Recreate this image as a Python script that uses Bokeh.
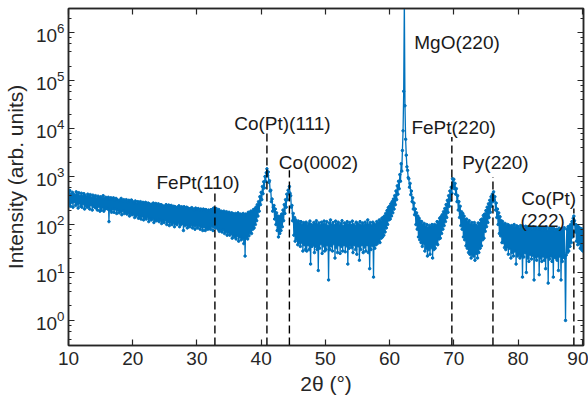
import numpy as np
from bokeh.plotting import figure
from bokeh.models import (Range1d, LinearAxis, LogAxis, FixedTicker, LogTicker,
                          ColumnDataSource, CustomJSTickFormatter)
from bokeh.core.properties import value
from bokeh.embed import file_html
from bokeh.resources import INLINE

# ---------------- data ----------------
scan_start = 10.0   # degrees 2theta
scan_step = 0.1     # degrees

intensity_10_20 = [
    450, 270, 510, 240, 420, 290, 470, 230, 430, 300,
    400, 250, 480, 270, 420, 220, 460, 280, 390, 240,
    450, 230, 390, 270, 440, 210, 400, 250, 370, 230,
    430, 240, 380, 210, 420, 260, 360, 200, 410, 240,
    370, 230, 400, 220, 350, 200, 390, 240, 360, 190,
    380, 200, 350, 230, 400, 190, 340, 210, 370, 220,
    340, 210, 370, 115, 330, 200, 360, 180, 340, 210,
    360, 180, 320, 210, 350, 170, 330, 200, 310, 175,
    320, 190, 350, 160, 310, 195, 330, 170, 300, 185,
    330, 165, 295, 175, 320, 150, 300, 170, 325, 160]

intensity_20_30 = [
    300, 165, 280, 140, 310, 150, 275, 160, 300, 135,
    285, 145, 300, 130, 275, 150, 290, 125, 270, 140,
    290, 130, 260, 145, 280, 115, 270, 135, 255, 125,
    265, 135, 280, 110, 255, 125, 275, 120, 250, 130,
    270, 115, 245, 125, 260, 105, 250, 120, 240, 110,
    240, 125, 260, 100, 235, 115, 255, 95, 245, 110,
    250, 100, 230, 110, 240, 90, 235, 105, 225, 100,
    230, 110, 245, 90, 220, 100, 235, 105, 225, 75,
    235, 95, 215, 100, 230, 85, 220, 95, 210, 90,
    215, 100, 225, 85, 210, 95, 200, 80, 220, 95]

intensity_30_40 = [
    205, 85, 215, 95, 195, 80, 210, 90, 200, 75,
    210, 90, 195, 75, 205, 85, 185, 80, 200, 88,
    195, 80, 205, 92, 200, 75, 220, 90, 210, 85,
    215, 88, 195, 80, 205, 72, 185, 80, 190, 70,
    180, 78, 190, 65, 175, 72, 185, 60, 170, 68,
    180, 60, 165, 65, 175, 52, 170, 60, 160, 55,
    170, 50, 160, 58, 175, 45, 160, 55, 165, 48,
    160, 52, 170, 40, 155, 22, 165, 55, 160, 50,
    180, 58, 170, 68, 190, 65, 185, 80, 205, 85,
    210, 100, 230, 120, 260, 150, 300, 190, 380, 260]

intensity_40_50 = [
    470, 330, 620, 440, 780, 580, 1000, 800, 1200, 1450,
    1050, 1250, 760, 820, 500, 520, 300, 340, 190, 230,
    250, 130, 210, 100, 175, 75, 150, 55, 140, 65,
    150, 75, 165, 90, 200, 120, 260, 170, 330, 230,
    430, 330, 520, 440, 620, 450, 400, 230, 250, 120,
    170, 60, 140, 45, 125, 50, 110, 38, 118, 42,
    105, 35, 115, 42, 98, 28, 110, 38, 100, 30,
    112, 28, 96, 38, 105, 30, 118, 15, 100, 35,
    95, 38, 110, 26, 102, 35, 120, 30, 98, 11,
    108, 32, 95, 40, 112, 25, 100, 36, 118, 28]

intensity_50_60 = [
    100, 30, 115, 38, 92, 7, 108, 30, 125, 36,
    98, 28, 110, 40, 95, 20, 118, 33, 100, 26,
    112, 38, 95, 25, 105, 35, 120, 28, 92, 38,
    108, 27, 100, 36, 115, 15, 98, 32, 110, 37,
    95, 33, 118, 26, 100, 38, 92, 30, 112, 24,
    105, 36, 98, 18, 115, 30, 95, 38, 108, 26,
    96, 34, 112, 28, 100, 38, 125, 26, 98, 12,
    110, 30, 95, 37, 112, 8, 102, 32, 98, 38,
    115, 40, 108, 45, 125, 42, 115, 52, 135, 55,
    140, 60, 150, 70, 170, 85, 195, 100, 225, 125]

intensity_60_70 = [
    240, 130, 270, 150, 300, 175, 340, 210, 400, 260,
    500, 330, 640, 430, 800, 560, 1100, 800, 1850, 1300,
    3500, 9000, 60000, 5000000, 30000, 6000, 2800, 1600, 1350, 950,
    900, 600, 720, 420, 500, 300, 360, 210, 280, 160,
    210, 100, 175, 80, 150, 55, 135, 48, 118, 42,
    115, 35, 98, 40, 105, 28, 90, 32, 100, 22,
    85, 30, 96, 24, 88, 33, 100, 20, 90, 30,
    100, 32, 95, 40, 115, 38, 112, 50, 135, 52,
    145, 65, 160, 80, 185, 95, 215, 115, 260, 140,
    320, 180, 400, 240, 500, 320, 600, 450, 900, 620]

intensity_70_80 = [
    880, 560, 720, 430, 560, 300, 400, 200, 300, 140,
    240, 95, 185, 80, 170, 55, 150, 48, 128, 36,
    130, 32, 112, 26, 120, 24, 100, 20, 110, 24,
    95, 22, 110, 18, 98, 25, 92, 20, 108, 26,
    105, 32, 125, 36, 130, 48, 155, 52, 165, 72,
    195, 90, 230, 110, 270, 140, 320, 180, 380, 240,
    430, 300, 480, 320, 380, 200, 280, 140, 210, 100,
    175, 65, 145, 58, 120, 42, 115, 42, 100, 33,
    105, 30, 92, 34, 100, 24, 96, 32, 90, 20,
    95, 26, 88, 22, 100, 28, 86, 15, 94, 22]

intensity_80_90 = [
    90, 24, 82, 20, 95, 22, 84, 8, 92, 21,
    80, 26, 92, 10, 85, 20, 90, 17, 82, 24,
    88, 19, 78, 23, 90, 7, 80, 21, 86, 18,
    78, 22, 88, 9, 80, 20, 85, 17, 76, 22,
    85, 18, 80, 12, 90, 21, 74, 6, 84, 19,
    76, 22, 85, 17, 78, 8, 82, 21, 72, 20,
    80, 18, 76, 11, 84, 22, 75, 7, 82, 17,
    75, 21, 86, 20, 1, 23, 80, 26, 90, 28,
    92, 35, 100, 42, 115, 55, 135, 150, 120, 70,
    100, 45, 95, 38, 90, 40, 85, 32, 82, 30,
    80, 28, 78]

# reference peak positions (dashed lines) and their upper ends
peak_two_theta = [32.8, 40.9, 44.4, 69.7, 76.1, 88.7]
peak_line_top = [471, 8490, 1352, 6680, 980, 215]

# annotation texts and their anchor (left, baseline) in data coordinates
label_text = ["FePt(110)", "Co(Pt)(111)", "Co(0002)", "MgO(220)",
              "FePt(220)", "Py(220)", "Co(Pt)", "(222)"]
label_x = [23.7, 35.8, 42.76, 63.85, 63.4, 71.3, 80.5, 80.4]
label_y = [760, 12900, 1990, 630000, 10600, 1990, 347, 119]

x_ticks = [10, 20, 30, 40, 50, 60, 70, 80, 90]

# ---------------- build ----------------
intensity = (intensity_10_20 + intensity_20_30 + intensity_30_40 + intensity_40_50 +
             intensity_50_60 + intensity_60_70 + intensity_70_80 + intensity_80_90)
two_theta = [round(scan_start + scan_step * i, 1) for i in range(len(intensity))]

AX = "#262626"
FONT = "Liberation Sans"
BLUE = "#0072BD"

p = figure(width=588, height=399,
           x_range=Range1d(10, 90.2), y_range=Range1d(0.3, 3.2e6),
           y_axis_type="log", output_backend="svg", toolbar_location=None,
           min_border_left=66, min_border_right=5, min_border_top=8,
           min_border_bottom=54)
p.grid.visible = False
p.outline_line_color = AX
p.outline_line_width = 1.5
p.background_fill_color = "white"
p.border_fill_color = "white"

src = ColumnDataSource(dict(two_theta=two_theta, intensity=intensity))
p.line("two_theta", "intensity", source=src, line_color=BLUE, line_width=1.3)
p.scatter("two_theta", "intensity", source=src, size=2.5, color=BLUE)

peak_src = ColumnDataSource(dict(x=peak_two_theta, top=peak_line_top,
                                 bottom=[0.3] * len(peak_two_theta)))
p.segment(x0="x", y0="bottom", x1="x", y1="top", source=peak_src,
          line_color="black", line_width=1.4, line_dash="8 4")

lab_src = ColumnDataSource(dict(x=label_x, y=label_y, text=label_text))
p.text(x="x", y="y", text="text", source=lab_src, text_font=value(FONT),
       text_font_size="19px", text_color="#1a1a1a", text_align="left",
       text_baseline="alphabetic")

# axes styling
def style_axis(ax, minor_in=0):
    ax.axis_line_color = AX
    ax.axis_line_width = 1.5
    ax.major_tick_line_color = AX
    ax.major_tick_line_width = 1.2
    ax.minor_tick_line_color = AX
    ax.minor_tick_line_width = 1
    ax.major_tick_in = 6
    ax.major_tick_out = 0
    ax.minor_tick_in = minor_in
    ax.minor_tick_out = 0
    ax.major_label_text_font = FONT
    ax.major_label_text_font_size = "19px"
    ax.major_label_text_color = AX
    ax.axis_label_text_font = FONT
    ax.axis_label_text_font_size = "21px"
    ax.axis_label_text_font_style = "normal"
    ax.axis_label_text_color = AX

xa = p.xaxis[0]
xa.ticker = FixedTicker(ticks=x_ticks)
style_axis(xa)
xa.axis_label = "2θ (°)"
xa.major_label_standoff = 6
xa.axis_label_standoff = 4

ya = p.yaxis[0]
ya.ticker = LogTicker(desired_num_ticks=8)
style_axis(ya, minor_in=3)
ya.axis_label = "Intensity (arb. units)"
ya.major_label_standoff = 4
ya.axis_label_standoff = 6

blank = CustomJSTickFormatter(code="return ''")
top = LinearAxis(ticker=FixedTicker(ticks=x_ticks), formatter=blank)
style_axis(top)
top.major_label_text_font_size = "0px"
top.major_label_standoff = 0
p.add_layout(top, "above")

right = LogAxis(ticker=LogTicker(desired_num_ticks=8), formatter=blank)
style_axis(right, minor_in=3)
right.major_label_text_font_size = "0px"
right.major_label_standoff = 0
p.add_layout(right, "right")

open("out.html", "w").write(file_html(p, INLINE))
